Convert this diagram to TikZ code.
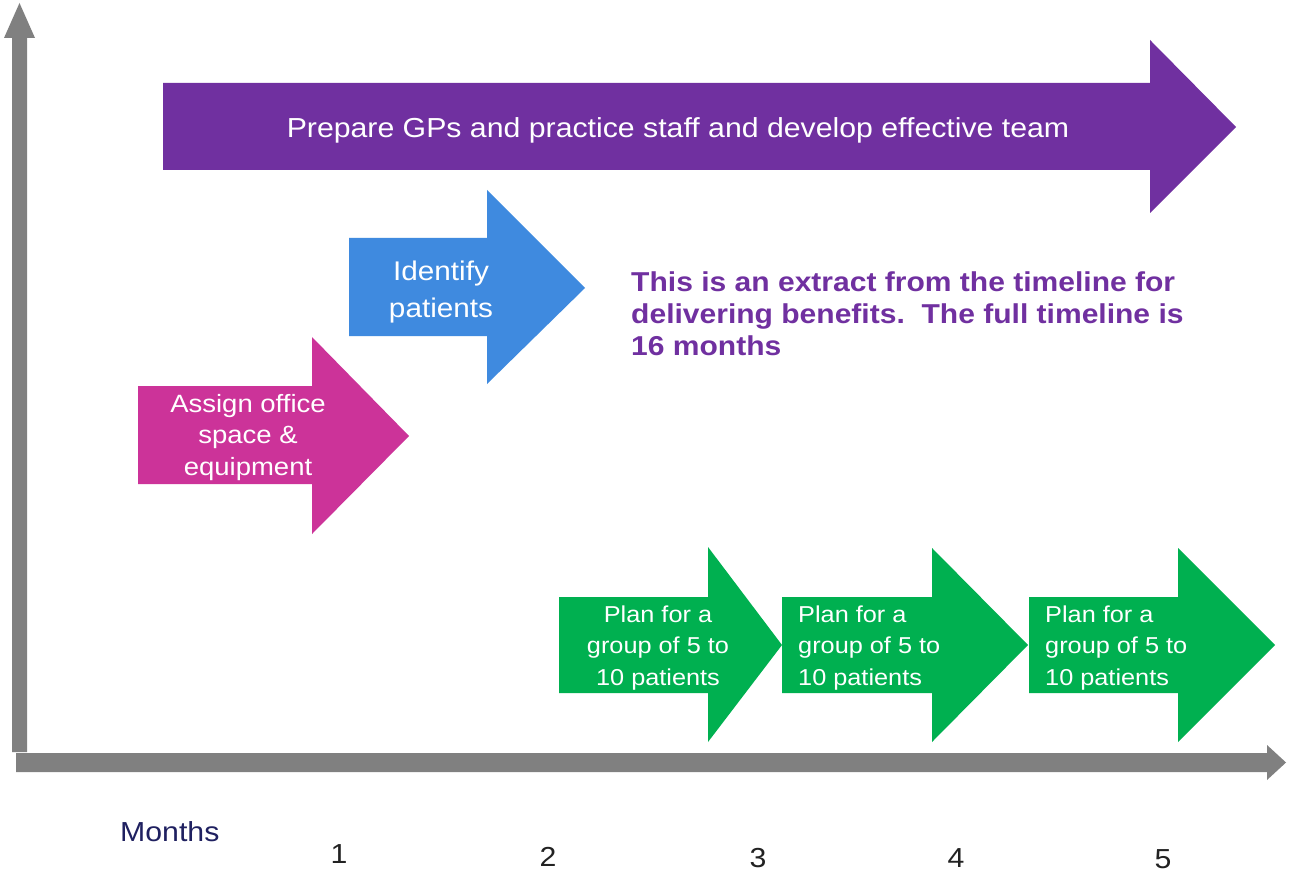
\documentclass[tikz,border=0pt]{standalone}
\usepackage{fontspec}
\setmainfont{Liberation Sans}[FakeStretch=1.1]
\definecolor{axisgray}{HTML}{808080}
\definecolor{teampurple}{HTML}{7030A0}
\definecolor{officepink}{HTML}{CC3399}
\definecolor{idblue}{HTML}{3F8ADF}
\definecolor{plangreen}{HTML}{00B050}
\definecolor{monthnavy}{HTML}{1F2060}
\definecolor{numdark}{HTML}{222222}
\begin{document}
\begin{tikzpicture}[x=1pt,y=-1pt,
  bigtext/.style={text=white, inner sep=0pt, align=center, font=\fontsize{27.5}{37}\selectfont},
  smalltext/.style={text=white, inner sep=0pt, font=\fontsize{23}{31.5}\selectfont},
  notetext/.style={text=teampurple, inner sep=0pt, align=left, font=\bfseries\fontsize{27.3}{31.5}\selectfont},
  monthtext/.style={inner sep=0pt, font=\fontsize{27.5}{34}\selectfont}]
\useasboundingbox[fill=white] (0,0) rectangle (1289,874);
% axes
\fill[axisgray] (12,752) -- (12,38) -- (4,38) -- (19.5,3) -- (35,38) -- (27,38) -- (27,752) -- cycle;
\fill[axisgray] (16,753) -- (1267,753) -- (1267,745) -- (1286,762.5) -- (1267,780) -- (1267,772) -- (16,772) -- cycle;
% purple arrow
\fill[teampurple] (163,83) -- (1150,83) -- (1150,40) -- (1236,127) -- (1150,213) -- (1150,170) -- (163,170) -- cycle;
\node[bigtext, anchor=base] (team) at (678,138) {Prepare GPs and practice staff and develop effective team};
% pink arrow
\fill[officepink] (138,386) -- (312,386) -- (312,337) -- (409,436) -- (312,534) -- (312,484) -- (138,484) -- cycle;
\node[smalltext, align=center, anchor=base, font=\fontsize{25}{31.5}\selectfont] (office) at (248,475) {Assign office\\space \&\\equipment};
% blue arrow
\fill[idblue] (349,238) -- (487,238) -- (487,190) -- (585,288) -- (487,384) -- (487,336) -- (349,336) -- cycle;
\node[bigtext, anchor=base, font=\fontsize{27}{37}\selectfont] (ident) at (441,317) {Identify\\patients};
% green arrows
\fill[plangreen] (559,597) -- (708,597) -- (708,547) -- (782,645) -- (708,742) -- (708,693) -- (559,693) -- cycle;
\fill[plangreen] (782,597) -- (932,597) -- (932,548) -- (1028,645) -- (932,742) -- (932,693) -- (782,693) -- cycle;
\fill[plangreen] (1029,597) -- (1178,597) -- (1178,548) -- (1275,645) -- (1178,742) -- (1178,693) -- (1029,693) -- cycle;
\node[smalltext, align=center, anchor=base] (plan1) at (658,685) {Plan for a\\group of 5 to\\10 patients};
\node[smalltext, align=left, anchor=base west] (plan2) at (798,685) {Plan for a\\group of 5 to\\10 patients};
\node[smalltext, align=left, anchor=base west] (plan3) at (1045,685) {Plan for a\\group of 5 to\\10 patients};
% note
\node[notetext, anchor=base west] (note) at (631,355) {This is an extract from the timeline for\\delivering benefits.\ \ The full timeline is\\16 months};
% months
\node[monthtext, text=monthnavy, anchor=base west] (months) at (120,841) {Months};
\node[monthtext, text=numdark, anchor=base] (m1) at (339,863) {1};
\node[monthtext, text=numdark, anchor=base] (m2) at (548,866) {2};
\node[monthtext, text=numdark, anchor=base] (m3) at (758,867) {3};
\node[monthtext, text=numdark, anchor=base] (m4) at (956,867) {4};
\node[monthtext, text=numdark, anchor=base] (m5) at (1163,868) {5};
\end{tikzpicture}
\end{document}
